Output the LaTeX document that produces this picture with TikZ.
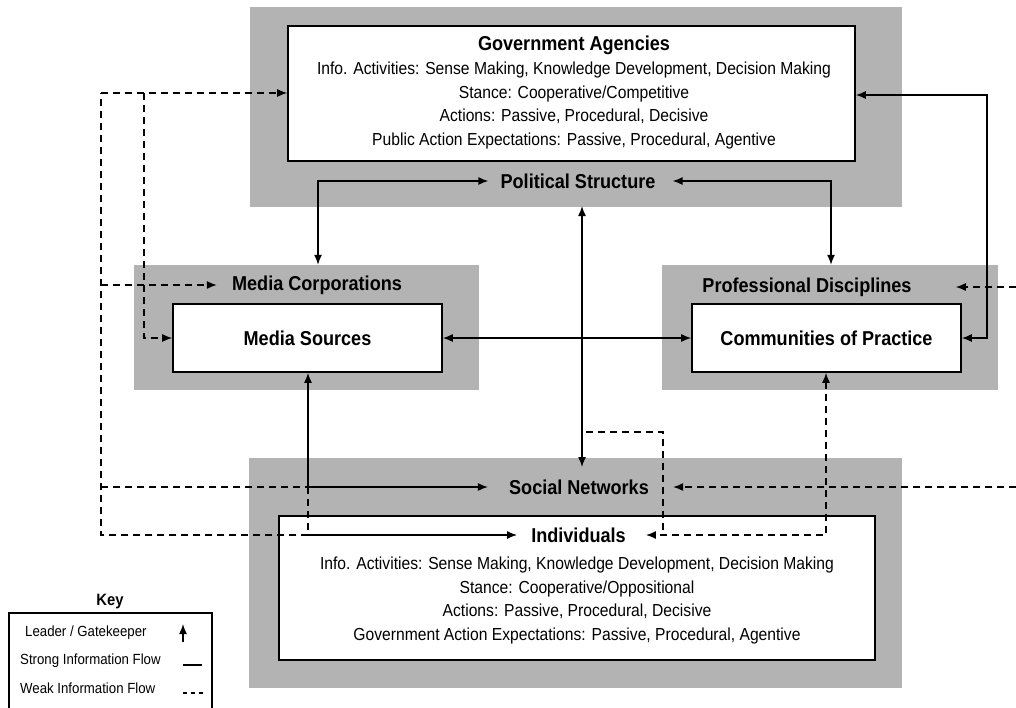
\documentclass[tikz,border=0pt]{standalone}
\usepackage{fontspec}
\setmainfont{Liberation Sans}[FakeStretch=0.9]
\usetikzlibrary{arrows.meta}
\definecolor{zone}{RGB}{179,179,179}
\newcommand\bodysize{\fontsize{17.4}{23.5}\selectfont}
\newcommand\titlesize{\fontsize{20.1}{24}\selectfont\bfseries}
\newcommand\keysize{\fontsize{14.7}{18}\selectfont}
\begin{document}
\begin{tikzpicture}[x=1pt,y=-1pt,
  zonebox/.style={fill=zone,draw=none,inner sep=0pt,rectangle},
  whitebox/.style={fill=white,draw=black,line width=1.6pt,inner sep=0pt,align=center},
  lbl/.style={font=\titlesize,inner sep=0pt},
  body/.style={font=\bodysize,align=center,inner sep=0pt},
  keytxt/.style={font=\keysize,inner sep=0pt,anchor=west},
  strong/.style={line width=1.4pt},
  weak/.style={line width=1.4pt,dash pattern=on 7pt off 5pt},
  tip/.style={-{Latex[length=10pt,width=8pt]}},
  tips/.style={{Latex[length=10pt,width=8pt]}-{Latex[length=10pt,width=8pt]}},
]
\useasboundingbox (0,0) rectangle (1016,707);
\fill[white] (0,0) rectangle (1016,707);

% grey zones
\node[zonebox,minimum width=652pt,minimum height=200pt] (govzone) at (576,107) {};
\node[zonebox,minimum width=345pt,minimum height=125pt] (medzone) at (306.5,327.5) {};
\node[zonebox,minimum width=336pt,minimum height=125pt] (profzone) at (830,327.5) {};
\node[zonebox,minimum width=653pt,minimum height=230pt] (soczone) at (575.5,573) {};

% white boxes
\node[whitebox,minimum width=567pt,minimum height=135pt] (gov) at (571.5,93.5) {};
\node[lbl] (govtitle) at (574,45) {Government Agencies};
\node[body] (govtext) at (574,105.5) {Info. Activities: Sense Making, Knowledge Development, Decision Making\\
Stance: Cooperative/Competitive\\
Actions: Passive, Procedural, Decisive\\
Public Action Expectations: Passive, Procedural, Agentive};

\node[whitebox,minimum width=269pt,minimum height=68pt,font=\titlesize] (medsrc) at (307.5,338) {Media Sources};
\node[whitebox,minimum width=269pt,minimum height=68pt,font=\titlesize] (comm) at (826.5,338) {Communities of Practice};
\node[whitebox,minimum width=596pt,minimum height=144pt] (ind) at (577,588) {};
\node[body] (indtext) at (577,600.5) {Info. Activities: Sense Making, Knowledge Development, Decision Making\\
Stance: Cooperative/Oppositional\\
Actions: Passive, Procedural, Decisive\\
Government Action Expectations: Passive, Procedural, Agentive};

% labels
\node[lbl] (pol) at (578,181) {Political Structure};
\node[lbl] (medcorp) at (317,285) {Media Corporations};
\node[lbl] (profdisc) at (807,287) {Professional Disciplines};
\node[lbl] (socnet) at (579,487) {Social Networks};
\node[lbl] (indiv) at (578.5,535) {Individuals};

% coordinates
\coordinate (pl) at (318,181);
\coordinate (pr) at (831,181);
\coordinate (ctop) at (582,206);
\coordinate (cbot) at (582,467);
\coordinate (rr) at (987,95);
\coordinate (ml) at (308,487);
\coordinate (mi) at (308,535);
\coordinate (lt) at (101,93);
\coordinate (lb) at (101,535);
\coordinate (lt2) at (144,93);
\coordinate (lm) at (101,285);
\coordinate (ls) at (101,487);
\coordinate (re1) at (1016,287);
\coordinate (re2) at (1016,487);
\coordinate (cd) at (826,535);
\coordinate (s1) at (586,432);
\coordinate (s2) at (663,432);
\coordinate (s3) at (663,532);

% strong flows
\draw[strong,tips] ([xshift=-12pt]pol.west) -- (pl) -- (pl |- medzone.north);
\draw[strong,tips] ([xshift=17pt]pol.east) -- (pr) -- (pr |- profzone.north);
\draw[strong,tips] (ctop) -- (cbot);
\draw[strong,tips] (medsrc.east) -- (comm.west);
\draw[strong,tips] (rr -| gov.east) -- (rr) -- (rr |- comm.east) -- (comm.east);
\draw[strong,tips] (ml |- medsrc.south) -- (ml) -- ([xshift=-21pt]socnet.west);
\draw[strong,tip] (mi) -- ([xshift=-14pt]indiv.west);

% weak flows
\draw[weak] (mi) -- (lb) -- (lt);
\draw[weak,tip] (lt) -- (lt -| gov.west);
\draw[weak,tip] (lt2) -- (lt2 |- medsrc.west) -- (medsrc.west);
\draw[weak,tip] (lm) -- ([xshift=-15pt]medcorp.west);
\draw[weak] (ls) -- (ml);
\draw[weak] (ml) -- (mi);
\draw[weak,tip] (re1) -- ([xshift=44pt]profdisc.east);
\draw[weak,tip] (re2) -- ([xshift=24pt]socnet.east);
\draw[weak,tips] (cd |- comm.south) -- (cd) -- ([xshift=20pt]indiv.east);
\draw[weak] (s1) -- (s2) -- (s3);

% key
\node[font=\bfseries\fontsize{16.4}{18}\selectfont,inner sep=0pt] (keyt) at (110,602) {Key};
\node[draw=black,line width=1.2pt,fill=white,minimum width=203pt,minimum height=110pt,inner sep=0pt] (keybox) at (110.5,668) {};
\node[keytxt] (k1) at (25,633) {Leader / Gatekeeper};
\node[keytxt] (k2) at (20,661) {Strong Information Flow};
\node[keytxt] (k3) at (20,688) {Weak Information Flow};
\coordinate (ka1) at (183,642);
\coordinate (ka2) at (183,624);
\coordinate (kb1) at (183,665);
\coordinate (kb2) at (202,665);
\coordinate (kc1) at (183,693);
\coordinate (kc2) at (203,693);
\draw[strong,tip] (ka1) -- (ka2);
\draw[line width=1.1pt] (kb1) -- (kb2);
\draw[line width=1.1pt,dash pattern=on 4pt off 4pt] (kc1) -- (kc2);
\end{tikzpicture}
\end{document}
